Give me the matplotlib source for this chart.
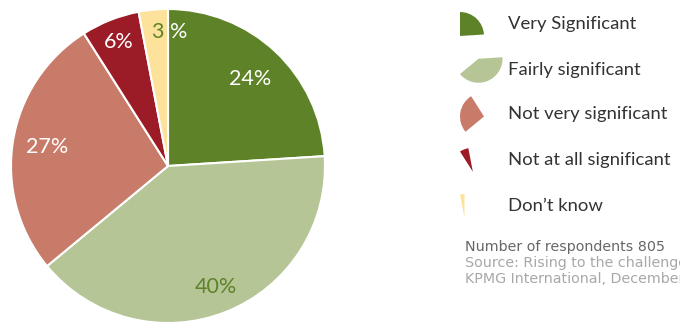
import numpy as np
import matplotlib.pyplot as plt
from matplotlib.patches import Wedge

# survey answers, share of respondents in percent
labels = ["Very Significant", "Fairly significant", "Not very significant",
          "Not at all significant", "Don\u2019t know"]
values = [24, 40, 27, 6, 3]
colors = ["#5e8227", "#b5c596", "#c97b6a", "#9b1b26", "#fce29a"]
label_colors = ["white", "#5e8227", "white", "white", "#5e8227"]

note = "Number of respondents 805"
source = ["Source: Rising to the challenge, KPMG International",
          "KPMG International, December 2010"]

W, H = 680, 322
fig = plt.figure(figsize=(W / 100, H / 100), dpi=100)

font = ["Lato", "DejaVu Sans"]

# pie axes, centre at (168, 166) px, radius 157 px
cx, cy, R = 168, 166, 157
ax = fig.add_axes([(cx - R) / W, (H - cy - R) / H, 2 * R / W, 2 * R / H])
wedges, _ = ax.pie(values, colors=colors, startangle=90, counterclock=False,
                   wedgeprops=dict(edgecolor="white", linewidth=1.5))
ax.set_xlim(-1, 1)
ax.set_ylim(-1, 1)
ax.set_aspect("equal")
ax.axis("off")

dist = [0.76, 0.83, 0.78, 0.85, 0.86]
for w, v, c, d in zip(wedges, values, label_colors, dist):
    mid = np.deg2rad((w.theta1 + w.theta2) / 2)
    x, y = d * np.cos(mid), d * np.sin(mid)
    if v == 3:
        # sits on the border: number on the yellow slice, sign on the green
        ax.text(-0.03, y, "3", color=c, ha="right", va="center",
                fontsize=15.5, family=font)
        ax.text(0.015, y, "%", color="white", ha="left", va="center",
                fontsize=15.5, family=font)
    else:
        ax.text(x, y, "%d%%" % v, color=c, ha="center", va="center",
                fontsize=15.5, family=font)

# overlay in pixel units for legend and notes
ov = fig.add_axes([0, 0, 1, 1])
ov.set_xlim(0, W)
ov.set_ylim(0, H)
ov.axis("off")

r_icon = 24
rows = [24, 70, 114, 160, 206]
for w, lab, col, ty in zip(wedges, labels, colors, rows):
    th = np.linspace(np.deg2rad(w.theta1), np.deg2rad(w.theta2), 50)
    xs = np.concatenate([[0], r_icon * np.cos(th)])
    ys = np.concatenate([[0], r_icon * np.sin(th)])
    ox = 460 - xs.min()
    oy = (H - ty) - (ys.min() + ys.max()) / 2
    ov.add_patch(Wedge((ox, oy), r_icon, w.theta1, w.theta2,
                       facecolor=col, edgecolor="none"))
    ov.text(508, H - ty, lab, ha="left", va="center", fontsize=13.3,
            color="#333333", family=font)

ov.text(465, H - 247, note, ha="left", va="center", fontsize=10.3,
        color="#666666", family="DejaVu Sans")
for i, s in enumerate(source):
    ov.text(465, H - 263 - 16 * i, s, ha="left", va="center", fontsize=10.3,
            color="#a8a8a8", family="DejaVu Sans")

fig.savefig("out.png", dpi=100)
